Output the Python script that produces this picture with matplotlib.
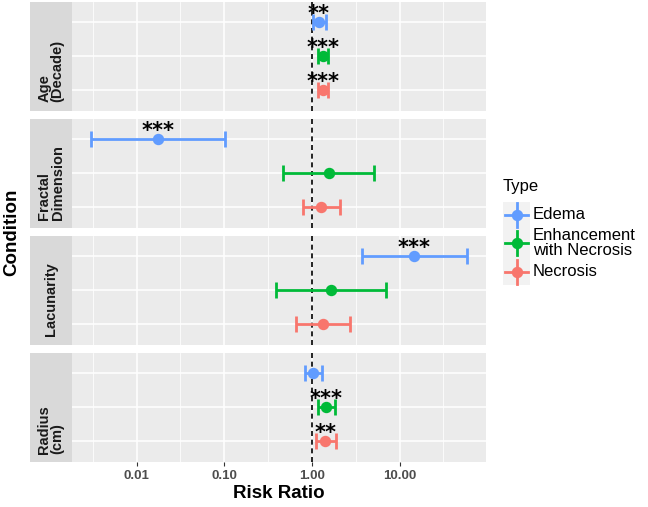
import numpy as np
import matplotlib
matplotlib.use("Agg")
import matplotlib.pyplot as plt
from matplotlib.lines import Line2D
from matplotlib.patches import Rectangle

plt.rcParams['font.family'] = ['Liberation Sans', 'DejaVu Sans']

# ---------------- data ----------------
conditions = ["Age\n(Decade)", "Fractal\nDimension", "Lacunarity", "Radius\n(cm)"]
types = ["Edema", "Enhancement\nwith Necrosis", "Necrosis"]
colors = ["#619CFF", "#00BA38", "#F8766D"]

edema_rr = [1.20, 0.0176, 14.7, 1.02]
edema_lo = [1.03, 0.0030, 3.7, 0.84]
edema_hi = [1.43, 0.103, 59.0, 1.29]
edema_sig = ["**", "***", "***", ""]

enh_rr = [1.33, 1.55, 1.64, 1.44]
enh_lo = [1.17, 0.47, 0.39, 1.16]
enh_hi = [1.52, 5.07, 7.05, 1.81]
enh_sig = ["***", "", "", "***"]

nec_rr = [1.34, 1.28, 1.32, 1.42]
nec_lo = [1.18, 0.80, 0.66, 1.11]
nec_hi = [1.53, 2.08, 2.70, 1.86]
nec_sig = ["***", "", "", "**"]

x_ticks = [0.01, 0.1, 1, 10]
x_ticklabels = ["0.01", "0.10", "1.00", "10.00"]

series = [
    (edema_rr, edema_lo, edema_hi, edema_sig),
    (enh_rr, enh_lo, enh_hi, enh_sig),
    (nec_rr, nec_lo, nec_hi, nec_sig),
]
rows = [3, 2, 1]  # Edema top, Necrosis bottom

# x limits with ggplot-like 5% expansion in log space
all_lo = np.log10(np.min([edema_lo, enh_lo, nec_lo]))
all_hi = np.log10(np.max([edema_hi, enh_hi, nec_hi]))
rng = all_hi - all_lo
xlim = (10 ** (all_lo - 0.05 * rng), 10 ** (all_hi + 0.05 * rng))

# ---------------- layout ----------------
W, H = 648, 507
fig = plt.figure(figsize=(W / 100, H / 100), dpi=100)
fig.patch.set_facecolor("white")

panel_left, panel_right, strip_left = 72, 486, 30
tops = [2, 119, 236, 353]
ph = 108.5

grey30 = "#4D4D4D"
for i, cond in enumerate(conditions):
    top = tops[i]
    ax = fig.add_axes([panel_left / W, 1 - (top + ph) / H,
                       (panel_right - panel_left) / W, ph / H])
    sx = fig.add_axes([strip_left / W, 1 - (top + ph) / H,
                       (panel_left - strip_left) / W, ph / H])
    sx.set_facecolor("#D9D9D9")
    for s in sx.spines.values():
        s.set_visible(False)
    sx.set_xticks([]); sx.set_yticks([])
    sx.text(0.5, 8 / ph, cond, rotation=90, rotation_mode="anchor",
            ha="left", va="center", multialignment="left",
            fontsize=10.5, fontweight="bold", color="#1A1A1A",
            transform=sx.transAxes, linespacing=0.95)

    ax.set_facecolor("#EBEBEB")
    for s in ax.spines.values():
        s.set_visible(False)
    ax.set_xscale("log")
    ax.set_xlim(*xlim)
    ax.set_ylim(0.4, 3.6)
    ax.set_xticks(x_ticks)
    ax.set_xticks([10 ** v for v in (-2.5, -1.5, -0.5, 0.5, 1.5)], minor=True)
    ax.set_yticks(rows)
    ax.grid(which="major", color="white", linewidth=1.1)
    ax.grid(which="minor", axis="x", color="white", linewidth=0.55)
    ax.set_axisbelow(True)
    ax.tick_params(axis="y", length=0, labelleft=False)
    ax.tick_params(axis="x", which="minor", length=0)
    if i == len(conditions) - 1:
        ax.set_xticklabels(x_ticklabels)
        ax.tick_params(axis="x", which="major", length=3, width=0.8,
                       color="#333333", pad=3, labelsize=9.5,
                       labelcolor=grey30)
        for lab in ax.get_xticklabels():
            lab.set_fontweight("bold")
    else:
        ax.tick_params(axis="x", which="major", length=0, labelbottom=False)

    ax.axvline(1.0, color="black", linestyle=(0, (3, 2.2)), linewidth=1.2, zorder=1)

    for (rr, lo, hi, sig), y, c in zip(series, rows, colors):
        r, l, h = rr[i], lo[i], hi[i]
        ax.errorbar([r], [y], xerr=[[r - l], [h - r]], fmt="o", color=c,
                    markersize=7.2, elinewidth=2.0, capsize=6, capthick=2.0,
                    zorder=3)
        if sig[i]:
            ax.text(r, y + 0.06, sig[i], ha="center", va="baseline",
                    fontsize=15, fontweight="bold", family="DejaVu Sans",
                    color="black", zorder=4)

# axis titles
fig.text((panel_left + panel_right) / 2 / W, 1 - 494 / H, "Risk Ratio",
         ha="center", va="center", fontsize=13.5, fontweight="bold")
fig.text(12 / W, 1 - 232 / H, "Condition", ha="center", va="center",
         rotation=90, fontsize=13.5, fontweight="bold")

# ---------------- legend ----------------
lax = fig.add_axes([0, 0, 1, 1], facecolor="none")
lax.set_xlim(0, W); lax.set_ylim(H, 0)
lax.axis("off")
lax.text(503, 187, "Type", ha="left", va="center", fontsize=12)
key_bounds = [(202, 227), (227, 259), (259, 285)]
kx0, kx1 = 503, 530
for (y0, y1), lab, c in zip(key_bounds, types, colors):
    lax.add_patch(Rectangle((kx0, y0), kx1 - kx0, y1 - y0, facecolor="#F2F2F2",
                            edgecolor="none"))
    cy = (y0 + y1) / 2
    cx = (kx0 + kx1) / 2
    ky_half = 12
    lax.add_line(Line2D([kx0 + 2, kx1 - 2], [cy, cy], color=c, linewidth=2.0))
    lax.add_line(Line2D([cx, cx], [cy - ky_half, cy + ky_half], color=c, linewidth=2.0))
    lax.add_line(Line2D([cx], [cy], marker="o", markersize=7.2, color=c, linestyle="none"))
    lax.text(533, cy, lab, ha="left", va="center", fontsize=12, linespacing=1.05)

fig.savefig("out.png", dpi=100)
